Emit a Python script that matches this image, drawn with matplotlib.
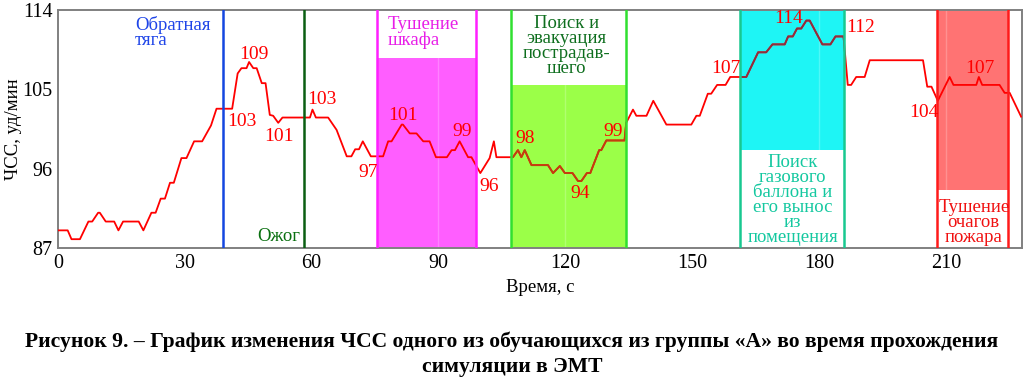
import matplotlib
matplotlib.use("Agg")
import matplotlib.pyplot as plt
from matplotlib.patches import Rectangle

# ---------------- data ----------------
time_s = [0, 2.3, 3.2, 5.2, 7.2, 8.1, 9.5, 9.9, 11.3, 13.3, 14.3, 15.4, 19.1, 20.2,
          22.1, 23.1, 24.3, 25.3, 26.5, 27.4, 29.2, 30.4, 32.2, 34.1, 36.2, 37.5,
          41.2, 42.5, 43.4, 44.6, 45.2, 46.2, 47.0, 48.2, 49.1, 50.1, 50.9, 52.1,
          53.1, 59.6, 60.2, 61.0, 63.9, 65.9, 68.3, 69.4, 70.3, 71.2, 72.1, 74.0,
          76.9, 78.1, 78.9, 81.3, 81.6, 83.2, 84.8, 86.4, 87.9, 89.4, 92.0, 93.1,
          93.9, 95.0, 97.0, 97.8, 99.9, 102.1, 103.1, 103.7,
          107.6, 108.8, 109.6, 110.4, 112.0, 115.9, 117.1, 118.7, 119.9, 121.7,
          123.0, 123.8, 125.1, 125.9, 128.0, 128.5, 129.7, 134.0, 134.4, 136.0,
          136.8, 139.2, 140.8, 143.9, 149.8, 151.0, 151.8, 153.7, 154.5, 155.9,
          157.9, 159.0, 162.8, 165.6, 167.5, 169.0, 171.9, 172.7, 173.8, 174.8,
          175.8, 177.0, 177.8, 180.8, 182.7, 183.9, 185.8, 186.8, 187.6, 188.8,
          190.8, 192.0, 204.6, 205.6, 206.6, 208.1, 210.9, 211.8, 217.2, 217.8,
          218.6, 222.7, 223.9, 225.1, 227.8]
hr_bpm = [89, 89, 88, 88, 90, 90, 91, 91, 90, 90, 89, 90, 90, 89,
          91, 91, 92.6, 92.6, 94.4, 94.4, 97.2, 97.2, 99.1, 99.1, 100.9, 102.8,
          102.8, 106.8, 107.4, 107.4, 108.1, 107.4, 107.4, 105.7, 105.7, 102.1, 102.0, 101.2,
          101.8, 101.8, 102.7, 101.8, 101.8, 100.4, 97.4, 97.4, 98.2, 98.2, 99.1, 97.4,
          97.4, 99.1, 99.1, 101.0, 101.0, 100.0, 100.0, 99.1, 99.1, 97.3, 97.3, 98.1,
          98.1, 99.1, 97.3, 97.3, 95.5, 97.2, 99.1, 97.3,
          97.3, 98.1, 97.3, 98.1, 96.4, 96.4, 95.5, 96.3, 95.5, 95.5,
          94.6, 94.6, 95.5, 95.5, 98.1, 98.1, 99.2, 99.2, 101.2, 102.7,
          102.0, 102.0, 103.7, 101.0, 101.0, 102.0, 102.0, 104.5, 104.5, 105.5,
          105.5, 106.4, 106.4, 109.2, 109.2, 110.1, 110.1, 111.0, 111.0, 111.9,
          111.9, 112.8, 112.8, 110.1, 110.1, 111.0, 111.0, 105.5, 105.5, 106.4,
          106.4, 108.3, 108.3, 105.3, 105.3, 103.7, 106.4, 105.5, 105.5, 106.4,
          105.5, 105.5, 104.6, 104.6, 101.9]

# single event lines
event_t = [39.1, 58.2]
event_labels = ["Обратная\nтяга", "Ожог"]

# shaded phases: start, end, fill low, fill high
band_labels = ["Тушение\nшкафа", "Поиск и\nэвакуация\nпострадав-\nшего",
               "Поиск\nгазового\nбаллона и\nего вынос\nиз\nпомещения",
               "Тушение\nочагов\nпожара"]
band_start = [75.4, 107.1, 161.2, 208.0]
band_end = [98.8, 134.3, 185.8, 224.8]
band_low = [87, 87, 98.1, 93.6]
band_high = [108.5, 105.5, 114, 114]

# value annotations
ann_text = ["109", "103", "101", "103", "97", "101", "99", "96", "98", "94", "99",
            "107", "114", "112", "104", "107"]
ann_t = [46.3, 43.5, 52.2, 62.4, 73.3, 81.6, 95.5, 101.9, 110.6, 123.6, 131.2,
         157.9, 172.8, 189.8, 204.7, 218.0]
ann_y = [109.0, 101.3, 99.6, 103.9, 95.6, 102.0, 100.2, 94.0, 99.4, 93.2, 100.2,
         107.4, 113.0, 112.0, 102.4, 107.4]

x_ticks = [0, 30, 60, 90, 120, 150, 180, 210]
y_ticks = [87, 96, 105, 114]

caption1 = "Рисунок 9. – График изменения ЧСС одного из обучающихся из группы «А» во время прохождения"
caption2 = "симуляции в ЭМТ"

# ---------------- styling ----------------
SERIF = ["Liberation Serif", "DejaVu Serif"]
plt.rcParams["font.family"] = SERIF

band_fill = ["#FF5EFF", "#9BFF48", "#1EF5F5", "#FF7373"]
band_edge = ["#FF20FF", "#30E030", "#18C890", "#FF1A1A"]
band_text = ["#E81EE8", "#0E6E1E", "#14C8A0", "#F01010"]
line_tint = [None, "#C04010", "#8B3040", None]
event_color = ["#1446E0", "#0B5E12"]

fig = plt.figure(figsize=(10.24, 3.83), dpi=100)
ax = fig.add_axes([0.0566, 0.3525, 0.9414, 0.6214])

# bands
rects = []
for s, e, lo, hi, fc in zip(band_start, band_end, band_low, band_high, band_fill):
    r = Rectangle((s, lo), e - s, hi - lo, facecolor=fc, edgecolor="none", zorder=1)
    ax.add_patch(r)
    rects.append(r)

# HR line
ax.plot(time_s, hr_bpm, color="#FF0000", lw=1.3, zorder=3)
for r, tint in zip(rects, line_tint):
    if tint:
        ln, = ax.plot(time_s, hr_bpm, color=tint, lw=1.3, zorder=3.1)
        ln.set_clip_path(r)

# band edges
for s, e, ec in zip(band_start, band_end, band_edge):
    ax.axvline(s, color=ec, lw=1.8, zorder=4)
    ax.axvline(e, color=ec, lw=1.8, zorder=4)

# event lines
for t, c in zip(event_t, event_color):
    ax.axvline(t, color=c, lw=1.8, zorder=4)

ax.set_xlim(0, 228)
ax.set_ylim(87, 114)
ax.set_xticks(x_ticks)
ax.set_yticks(y_ticks)
ax.tick_params(length=0, labelsize=14.5, pad=4)
for sp in ax.spines.values():
    sp.set_color("#808080")
    sp.set_linewidth(1.4)
ax.grid(axis="x", color="white", alpha=0.22, lw=1.0)
ax.set_axisbelow("line")

ax.set_xlabel("Время, с", fontsize=13.5)
ax.xaxis.set_label_coords(0.5, -0.165)
ax.xaxis.label.set_va("center")
ax.set_ylabel("ЧСС, уд/мин", fontsize=13.5)
ax.yaxis.set_label_coords(-0.046, 0.5)
ax.yaxis.label.set_va("center")

# annotations
for txt, t, y in zip(ann_text, ann_t, ann_y):
    ax.text(t, y, txt, color="#FF0000", fontsize=14, ha="center", va="center", zorder=6)

# event labels
ax.text(18.2, 113.3, event_labels[0], color="#1F45E8", fontsize=13.5, ha="left",
        va="top", linespacing=0.85, zorder=6)
ax.text(57.2, 88.25, event_labels[1], color="#0A7010", fontsize=13.5, ha="right",
        va="center", zorder=6)

# band labels
ax.text(78.0, 113.3, band_labels[0], color=band_text[0], fontsize=13.5, ha="left",
        va="top", linespacing=0.85, zorder=6)
ax.text(120.3, 113.4, band_labels[1], color=band_text[1], fontsize=13.5, ha="center",
        va="top", linespacing=0.85, zorder=6)
ax.text(173.8, 87.2, band_labels[2], color=band_text[2], fontsize=13.5, ha="center",
        va="bottom", linespacing=0.85, zorder=6)
ax.text(216.6, 87.2, band_labels[3], color=band_text[3], fontsize=13.5, ha="center",
        va="bottom", linespacing=0.85, zorder=6)

fig.text(0.5, 1 - 342 / 383, caption1, ha="center", va="center", fontsize=15.6,
         fontweight="bold")
fig.text(0.5, 1 - 367 / 383, caption2, ha="center", va="center", fontsize=15.6,
         fontweight="bold")

fig.savefig("out.png", dpi=100)
